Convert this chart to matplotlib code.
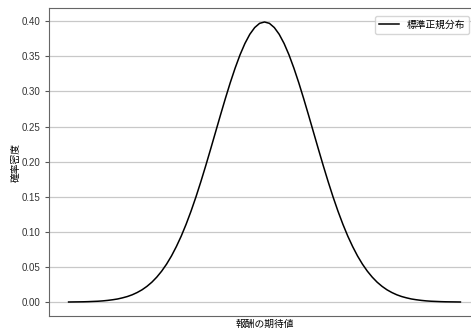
import numpy as np
import matplotlib
matplotlib.use("Agg")
import matplotlib.pyplot as plt

plt.rcParams['font.family'] = ['Liberation Sans', 'Noto Sans CJK JP']

# expected reward (x) and density
reward = [-4.0, -3.9, -3.8, -3.7, -3.6, -3.5, -3.4, -3.3, -3.2, -3.1,
          -3.0, -2.9, -2.8, -2.7, -2.6, -2.5, -2.4, -2.3, -2.2, -2.1,
          -2.0, -1.9, -1.8, -1.7, -1.6, -1.5, -1.4, -1.3, -1.2, -1.1,
          -1.0, -0.9, -0.8, -0.7, -0.6, -0.5, -0.4, -0.3, -0.2, -0.1,
          0.0, 0.1, 0.2, 0.3, 0.4, 0.5, 0.6, 0.7, 0.8, 0.9,
          1.0, 1.1, 1.2, 1.3, 1.4, 1.5, 1.6, 1.7, 1.8, 1.9,
          2.0, 2.1, 2.2, 2.3, 2.4, 2.5, 2.6, 2.7, 2.8, 2.9,
          3.0, 3.1, 3.2, 3.3, 3.4, 3.5, 3.6, 3.7, 3.8, 3.9, 4.0]
density = [0.0001, 0.0002, 0.0003, 0.0004, 0.0006, 0.0009, 0.0012, 0.0017, 0.0024, 0.0033,
           0.0044, 0.0060, 0.0079, 0.0104, 0.0136, 0.0175, 0.0224, 0.0283, 0.0355, 0.0440,
           0.0540, 0.0656, 0.0790, 0.0940, 0.1109, 0.1295, 0.1497, 0.1714, 0.1942, 0.2179,
           0.2420, 0.2661, 0.2897, 0.3123, 0.3332, 0.3521, 0.3683, 0.3814, 0.3910, 0.3970,
           0.3989, 0.3970, 0.3910, 0.3814, 0.3683, 0.3521, 0.3332, 0.3123, 0.2897, 0.2661,
           0.2420, 0.2179, 0.1942, 0.1714, 0.1497, 0.1295, 0.1109, 0.0940, 0.0790, 0.0656,
           0.0540, 0.0440, 0.0355, 0.0283, 0.0224, 0.0175, 0.0136, 0.0104, 0.0079, 0.0060,
           0.0044, 0.0033, 0.0024, 0.0017, 0.0012, 0.0009, 0.0006, 0.0004, 0.0003, 0.0002, 0.0001]
yticks = [0.00, 0.05, 0.10, 0.15, 0.20, 0.25, 0.30, 0.35, 0.40]

fig = plt.figure(figsize=(4.71, 3.30), dpi=100)
# axes runs a bit past the right edge like the original crop
ax = fig.add_axes([49/471, 14/330, 431/471, 308/330])

ax.plot(reward, density, color='black', lw=1.1, label='標準正規分布')

ax.set_yticks(yticks)
ax.set_yticklabels(['%.2f' % v for v in yticks], fontsize=7)
ax.set_xticks([])
ax.grid(axis='y', color='#c8c8c8', lw=0.9)
ax.set_axisbelow(True)

for s in ax.spines.values():
    s.set_color('#666666')
ax.tick_params(axis='y', colors='#555555', labelcolor='#333333', length=3)

ax.set_xlabel('報酬の期待値', fontsize=7, labelpad=2)
ax.set_ylabel('確率密度', fontsize=7)
ax.yaxis.set_label_coords(-0.066, 0.5)
ax.legend(loc='upper right', fontsize=7, bbox_to_anchor=(0.985, 0.99))

fig.savefig('out.png', dpi=100)
